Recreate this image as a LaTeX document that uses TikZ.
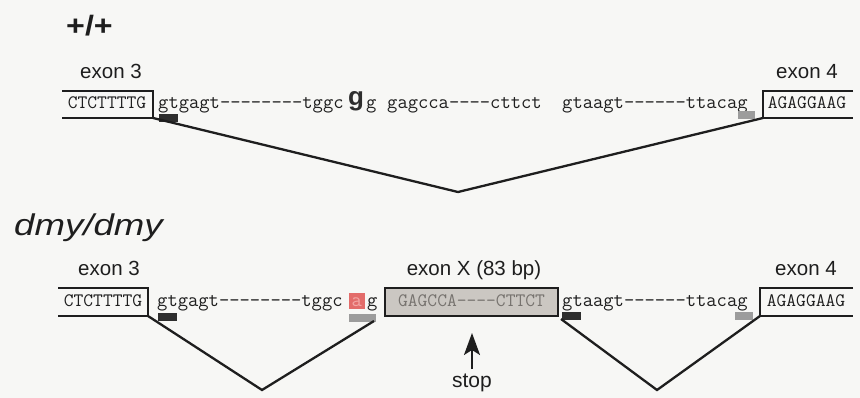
\documentclass[tikz,border=0pt]{standalone}
\usepackage{fontspec}
\setsansfont{Liberation Sans}
\usetikzlibrary{arrows.meta}

\definecolor{ink}{HTML}{1E1E1E}
\definecolor{paper}{HTML}{F7F7F5}
\definecolor{exonfill}{HTML}{CBC7C2}
\definecolor{exontext}{HTML}{77736F}
\definecolor{donor}{HTML}{2E2E2E}
\definecolor{acceptor}{HTML}{9C9C9C}
\definecolor{mutred}{HTML}{E36C6A}
\definecolor{mutletter}{HTML}{F2A7A5}

% a hyphen that never joins its neighbour into a dash ligature
\newcommand\hy{-\kern0pt}

\tikzset{
  seq/.style={font=\ttfamily\fontsize{20}{22}\selectfont, inner sep=0pt,
              anchor=base west, text=ink},
  caps/.style={font=\ttfamily\fontsize{19}{22}\selectfont, inner sep=0pt,
               anchor=base, text=ink},
  lab/.style={font=\sffamily\fontsize{20.5}{24}\selectfont, inner sep=0pt,
              anchor=base, text=ink},
  exonline/.style={draw=ink, line width=2.6pt, line join=miter},
  splice/.style={draw=ink, line width=2.3pt, line join=miter},
  donorbox/.style={fill=donor},
  accbox/.style={fill=acceptor},
  stoparrow/.style={draw=ink, line width=1.8pt,
                    -{Stealth[length=22pt,width=16pt,inset=5pt]}}
}

\begin{document}
\begin{tikzpicture}[x=1pt,y=-1pt]
\fill[paper] (0,0) rectangle (860,398);
\useasboundingbox (0,0) rectangle (860,398);

% ---------------- wild type ----------------
\node[font=\sffamily\bfseries\fontsize{28}{30}\selectfont, inner sep=0pt, anchor=base west, text=ink]
  (wt) at (66,36) {\scalebox{1.15}[1]{+/+}};

\node[lab] (wtl3) at (111,79) {exon 3};
\node[lab] (wtl4) at (807,79) {exon 4};

% exon 3 (open to the left)
\coordinate (wa3tl) at (62,91);
\coordinate (wa3tr) at (153,91);
\coordinate (wa3br) at (153,118);
\coordinate (wa3bl) at (62,118);
\draw[exonline] (wa3tl) -- (wa3tr) -- (wa3br) -- (wa3bl);
\node[caps] (wa3) at (107,109) {CTCTTTTG};

% exon 4 (open to the right)
\coordinate (wa4tl) at (763,91);
\coordinate (wa4tr) at (853,91);
\coordinate (wa4br) at (853,118);
\coordinate (wa4bl) at (763,118);
\draw[exonline] (wa4tr) -- (wa4tl) -- (wa4bl) -- (wa4br);
\node[caps] (wa4) at (807,109) {AGAGGAAG};

% intron sequence
\node[seq] (wi1) at (158,109) {gtgagt\hy\hy\hy\hy\hy\hy\hy\hy tggc};
\node[seq, font=\sffamily\bfseries\fontsize{26}{28}\selectfont, text=donor]
  (wsite) at (348,106) {g};
\node[seq] (wi2) at (366,109) {g};
\node[seq] (wi3) at (387,109) {gagcca\hy\hy\hy\hy cttct};
\node[seq] (wi4) at (562,109) {gtaagt\hy\hy\hy\hy\hy\hy ttacag};

% splice-site markers
\fill[donorbox] (159,114) rectangle (178,122);
\fill[accbox] (738,111) rectangle (755,119);

% splicing exon 3 -> exon 4
\coordinate (wapex) at (458,192);
\draw[splice] (wa3br) -- (wapex) -- (wa4bl);

% ---------------- dmy mutant ----------------
\node[font=\sffamily\itshape\fontsize{30}{32}\selectfont, inner sep=0pt, anchor=base west, text=ink]
  (mt) at (14,236) {\scalebox{1.22}[1]{dmy/dmy}};

\node[lab] (ml3) at (109,276) {exon 3};
\node[lab] (mlx) at (474,276) {exon X (83 bp)};
\node[lab] (ml4) at (806,276) {exon 4};

% exon 3
\coordinate (m3tl) at (58,288);
\coordinate (m3tr) at (148,288);
\coordinate (m3br) at (148,316);
\coordinate (m3bl) at (58,316);
\draw[exonline] (m3tl) -- (m3tr) -- (m3br) -- (m3bl);
\node[caps] (m3) at (103,307) {CTCTTTTG};

% cryptic exon X
\draw[exonline, fill=exonfill] (385,288) rectangle (558,316);
\node[caps, text=exontext] (mx) at (471.5,307) {GAGCCA\hy\hy\hy\hy CTTCT};

% exon 4
\coordinate (m4tl) at (760,288);
\coordinate (m4tr) at (853,288);
\coordinate (m4br) at (853,316);
\coordinate (m4bl) at (760,316);
\draw[exonline] (m4tr) -- (m4tl) -- (m4bl) -- (m4br);
\node[caps] (m4) at (806,307) {AGAGGAAG};

% intron sequence with the point mutation
\node[seq] (mi1) at (157,307) {gtgagt\hy\hy\hy\hy\hy\hy\hy\hy tggc};
\fill[mutred] (349,293) rectangle (365,309);
\node[seq, text=mutletter] (msite) at (351.5,307) {a};
\node[seq] (mi2) at (367,307) {g};
\node[seq] (mi3) at (562,307) {gtaagt\hy\hy\hy\hy\hy\hy ttacag};

% splice-site markers
\fill[donorbox] (158,313) rectangle (177,321);
\fill[accbox] (349,314) rectangle (376,322);
\fill[donorbox] (562,312) rectangle (581,320);
\fill[accbox] (735,312) rectangle (753,320);

% splicing exon 3 -> exon X -> exon 4
\coordinate (mapex1) at (262,390);
\coordinate (macc1) at (374,321);
\coordinate (mdon2) at (561,319);
\coordinate (mapex2) at (657,390);
\draw[splice] (m3br) -- (mapex1) -- (macc1);
\draw[splice] (mdon2) -- (mapex2) -- (m4bl);

% premature stop codon
\node[font=\sffamily\fontsize{21}{24}\selectfont, inner sep=0pt, anchor=base, text=ink]
  (stop) at (472,387) {stop};
\coordinate (stoptip) at (472,333);
\draw[stoparrow] ([yshift=4pt]stop.north) -- (stoptip);
\end{tikzpicture}
\end{document}
